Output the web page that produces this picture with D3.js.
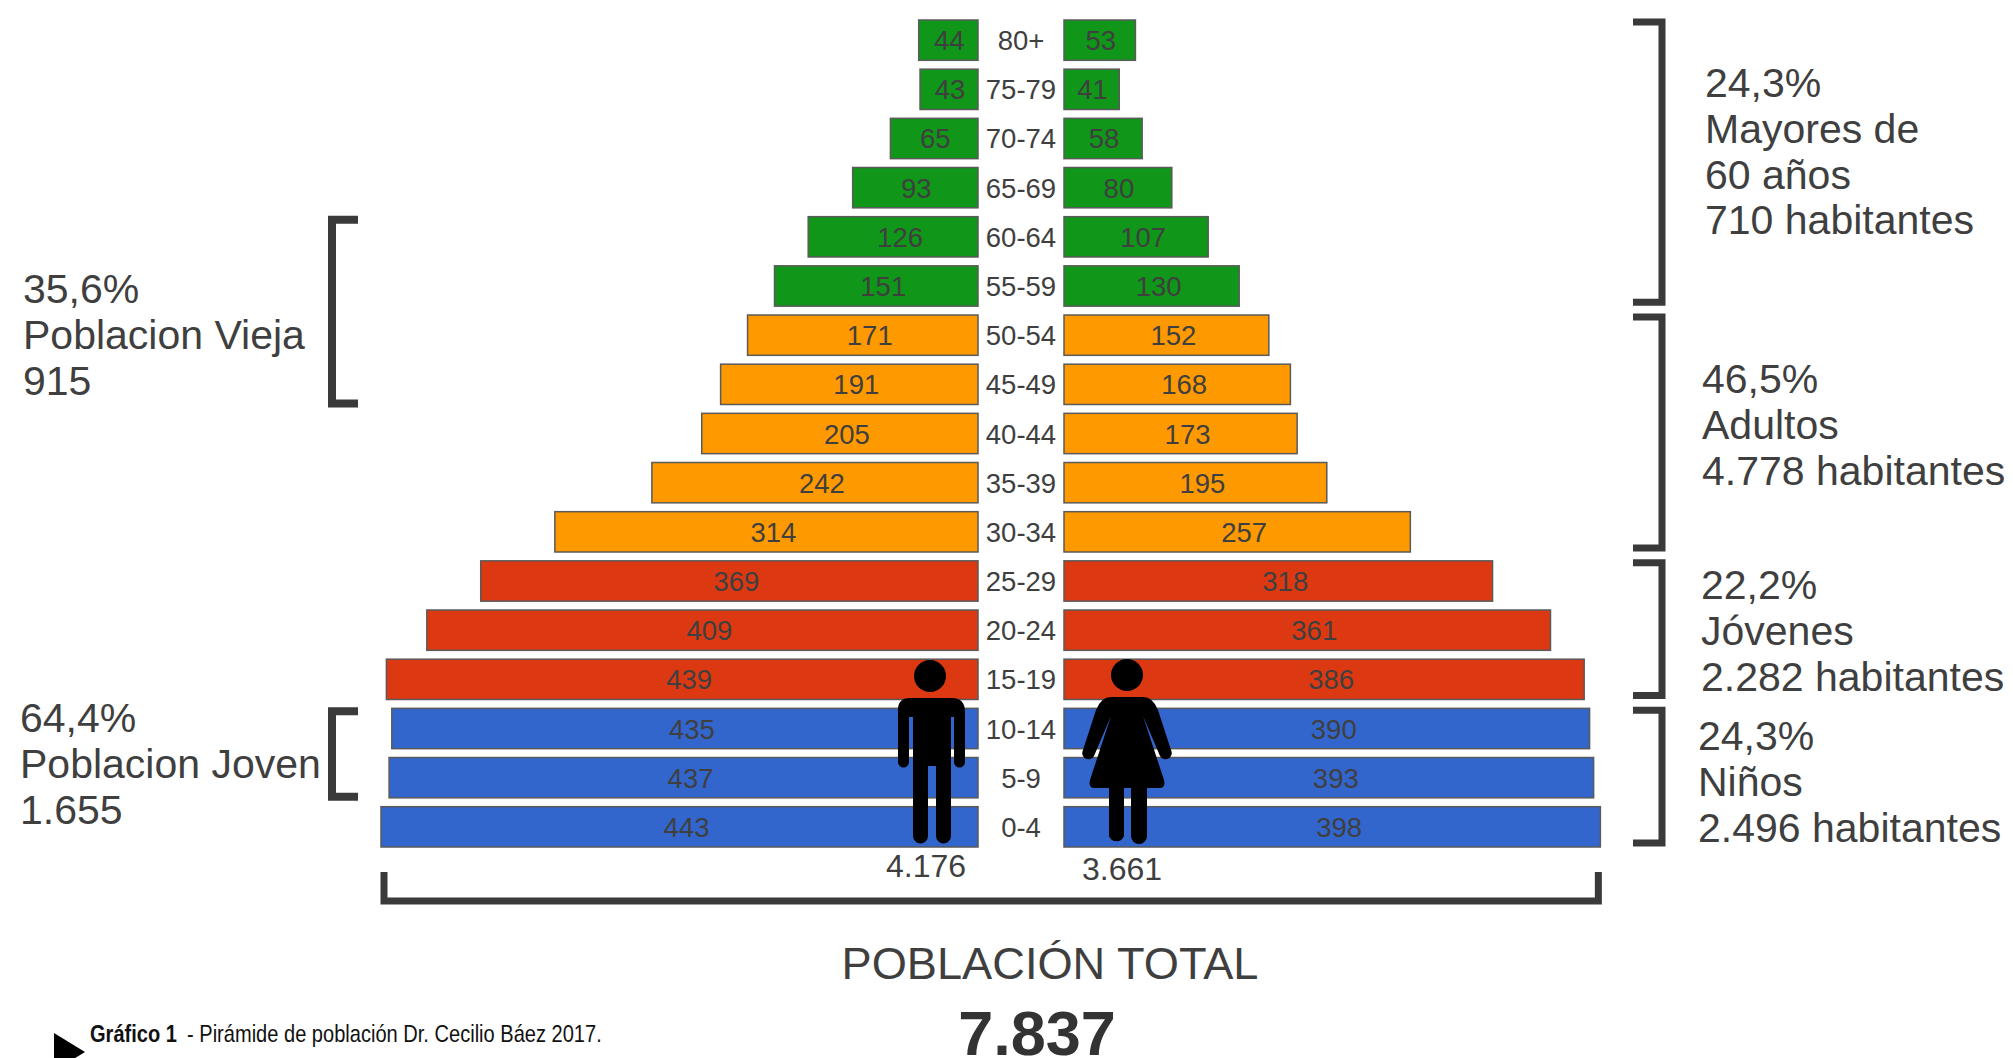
<!DOCTYPE html>
<html>
<head>
<meta charset="utf-8">
<script src="https://d3js.org/d3.v7.min.js"></script>
<style>
html, body { margin: 0; padding: 0; background: #fff; overflow: hidden; }
svg { display: block; }
text { font-family: "Liberation Sans", Arial, sans-serif; fill: #3f3f3f; }
</style>
</head>
<body>
<svg id="chart" width="2013" height="1058"></svg>
<script>
const ages = ["80+", "75-79", "70-74", "65-69", "60-64", "55-59", "50-54", "45-49",
    "40-44", "35-39", "30-34", "25-29", "20-24", "15-19", "10-14", "5-9", "0-4"];
const men = [44, 43, 65, 93, 126, 151, 171, 191, 205, 242, 314, 369, 409, 439, 435, 437, 443];
const women = [53, 41, 58, 80, 107, 130, 152, 168, 173, 195, 257, 318, 361, 386, 390, 393, 398];
const groups = ["viejo", "viejo", "viejo", "viejo", "viejo", "viejo", "adulto", "adulto", "adulto",
    "adulto", "adulto", "joven", "joven", "joven", "nino", "nino", "nino"];
const groupColors = { viejo: "#109618", adulto: "#ff9900", joven: "#dc3912", nino: "#3366cc" };

const rightNotes = [
    { from: "80+", to: "55-59", x: 1705, y: 97, lines: ["24,3%", "Mayores de", "60 años", "710 habitantes"] },
    { from: "50-54", to: "30-34", x: 1702, y: 393, lines: ["46,5%", "Adultos", "4.778 habitantes"] },
    { from: "25-29", to: "15-19", x: 1701, y: 599, lines: ["22,2%", "Jóvenes", "2.282 habitantes"] },
    { from: "10-14", to: "0-4", x: 1698, y: 750, lines: ["24,3%", "Niños", "2.496 habitantes"] }
];
const leftNotes = [
    { from: "60-64", to: "45-49", x: 23, y: 303, lines: ["35,6%", "Poblacion Vieja", "915"] },
    { from: "10-14", to: "5-9", x: 20, y: 732, lines: ["64,4%", "Poblacion Joven", "1.655"] }
];

const svg = d3.select("#chart");
const rows = ages.map((age, i) => ({ age: age, men: men[i], women: women[i], group: groups[i] }));

const y = d3.scaleBand().domain(ages).range([20, 847]).paddingInner(0.18);
const xWidth = d3.scaleLinear().domain([0, 443]).range([0, 597]);
const leftEdge = 978;
const rightEdge = 1064;

// the labels of the wider bars sit a bit right of the bar centre
const labelShift = d => d >= 100 ? 7 : 1;

function drawSide(key, barX, labelX) {
    const side = svg.append("g");
    side.selectAll("rect")
        .data(rows)
        .enter()
        .append("rect")
        .attr("x", d => barX(d[key]))
        .attr("y", d => y(d.age))
        .attr("width", d => xWidth(d[key]))
        .attr("height", y.bandwidth())
        .attr("fill", d => groupColors[d.group])
        .attr("stroke", "#5a5a5a")
        .attr("stroke-width", 1.5);
    side.selectAll("text")
        .data(rows)
        .enter()
        .append("text")
        .attr("x", d => labelX(d[key]) + labelShift(d[key]))
        .attr("y", d => y(d.age) + y.bandwidth() / 2 + 10)
        .attr("text-anchor", "middle")
        .attr("font-size", 27.5)
        .text(d => d[key]);
}

drawSide("men", v => leftEdge - xWidth(v), v => leftEdge - xWidth(v) / 2);
drawSide("women", () => rightEdge, v => rightEdge + xWidth(v) / 2);

svg.append("g")
    .selectAll("text")
    .data(ages)
    .enter()
    .append("text")
    .attr("x", 1021)
    .attr("y", d => y(d) + y.bandwidth() / 2 + 10)
    .attr("text-anchor", "middle")
    .attr("font-size", 27.5)
    .text(d => d);

// brackets
function bracket(x0, x1, y0, y1, width) {
    svg.append("path")
        .attr("d", "M" + x0 + "," + y0 + "H" + x1 + "V" + y1 + "H" + x0)
        .attr("fill", "none")
        .attr("stroke", "#3a3a3a")
        .attr("stroke-width", width);
}

function note(n) {
    svg.append("text")
        .attr("font-size", 41)
        .selectAll("tspan")
        .data(n.lines)
        .enter()
        .append("tspan")
        .attr("x", n.x)
        .attr("y", (d, i) => n.y + i * 45.8)
        .text(d => d);
}

rightNotes.forEach(n => {
    bracket(1633, 1662, y(n.from) + 2, y(n.to) + y.bandwidth() - 4, 7);
    note(n);
});
leftNotes.forEach(n => {
    bracket(358, 332, y(n.from) + 3, y(n.to) + y.bandwidth() - 1, 8);
    note(n);
});

svg.append("path")
    .attr("d", "M" + (leftEdge - xWidth(443) + 3) + ",872V901H" + (rightEdge + xWidth(398) - 2) + "V872")
    .attr("fill", "none")
    .attr("stroke", "#3a3a3a")
    .attr("stroke-width", 7);

// figures
const man = svg.append("g").attr("transform", "translate(930,676)");
man.append("circle").attr("r", 16);
man.append("path")
    .attr("d", "M-20,22H22Q35,22 35,36V86a5.5,5.5 0 0 1 -11,0V41H21V160a7.5,7.5 0 0 1 -15,0V90H-2V160a7.5,7.5 0 0 1 -15,0V41H-21V86a5.5,5.5 0 0 1 -11,0V36Q-33,22 -20,22Z");

const woman = svg.append("g").attr("transform", "translate(1127,675)");
woman.append("circle").attr("r", 16);
woman.append("path")
    .attr("d", "M-16,22H16Q26,22 31,35L44,75a6,6 0 0 1 -11,6L16,41L37,105Q39,113 32,113H20V161a8,8 0 0 1 -16,0V113H-3V161a8,8 0 0 1 -15,0V113H-32Q-39,113 -37,105L-16,41L-33,81a6,6 0 0 1 -11,-6L-31,35Q-26,22 -16,22Z");

// totals
svg.append("text").attr("x", 926).attr("y", 877).attr("text-anchor", "middle").attr("font-size", 32).text("4.176");
svg.append("text").attr("x", 1122).attr("y", 880).attr("text-anchor", "middle").attr("font-size", 32).text("3.661");

svg.append("text")
    .attr("x", 1050).attr("y", 979)
    .attr("text-anchor", "middle")
    .attr("font-size", 45.2)
    .text("POBLACIÓN TOTAL");
svg.append("text")
    .attr("x", 1037).attr("y", 1055)
    .attr("text-anchor", "middle")
    .attr("font-size", 63)
    .attr("font-weight", "bold")
    .style("fill", "#333")
    .text("7.837");

// caption, squeezed to the width of the condensed face of the original
function captionPart(x, width, bold, str) {
    const t = svg.append("text")
        .attr("font-size", 24)
        .attr("font-weight", bold ? "bold" : "normal")
        .style("font-family", "'Liberation Sans Narrow', 'Liberation Sans', sans-serif")
        .style("fill", "#111")
        .text(str);
    const sx = width / t.node().getComputedTextLength();
    t.attr("transform", "translate(" + x + ",1042) scale(" + sx + ",1)");
}

svg.append("path").attr("d", "M54,1033L85,1052L54,1071Z").attr("fill", "#000");
captionPart(90, 87, true, "Gráfico 1");
captionPart(187, 415, false, "- Pirámide de población Dr. Cecilio Báez 2017.");
</script>
</body>
</html>
